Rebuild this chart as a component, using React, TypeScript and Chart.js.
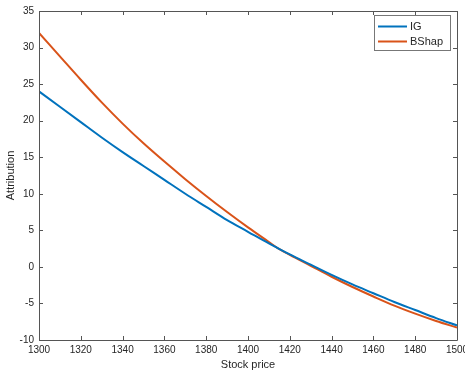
import React, { useEffect, useRef } from "react";
import { Chart, registerables } from "chart.js";

Chart.register(...registerables);

const stockPrices = [1300, 1310, 1320, 1330, 1340, 1350, 1360, 1370, 1380, 1390, 1400, 1410, 1414, 1420, 1430, 1440, 1450, 1460, 1470, 1480, 1490, 1500];
const igValues = [24.0, 21.9, 19.8, 17.7, 15.7, 13.8, 11.9, 10.0, 8.2, 6.4, 4.8, 3.2, 2.6, 1.7, 0.3, -1.1, -2.4, -3.6, -4.8, -5.9, -7.0, -8.0];
const bshapValues = [32.0, 28.8, 25.6, 22.5, 19.6, 16.9, 14.4, 12.0, 9.7, 7.5, 5.4, 3.4, 2.6, 1.65, 0.15, -1.35, -2.75, -4.05, -5.3, -6.4, -7.4, -8.3];
const seriesNames = ["IG", "BShap"];
const xTickStep = 20;
const yTickStep = 5;
const xRange = [1300, 1500];
const yRange = [-10, 35];
const xTitle = "Stock price";
const yTitle = "Attribution";

const COLORS = ["#0072BD", "#D95319"];
const AXIS = "#262626";
const FONT = "'Liberation Sans', Arial, Helvetica, sans-serif";

const boxPlugin = {
  id: "matlabBox",
  afterDraw(chart: any) {
    const { ctx, chartArea: a, scales } = chart;
    const x = scales.x;
    const y = scales.y;
    ctx.save();
    ctx.strokeStyle = "#555555";
    ctx.lineWidth = 1;
    ctx.beginPath();
    ctx.rect(Math.round(a.left) + 0.5, Math.round(a.top) + 0.5, Math.round(a.right - a.left), Math.round(a.bottom - a.top));
    ctx.stroke();
    const tl = 4;
    ctx.beginPath();
    for (const t of x.ticks) {
      const px = Math.round(x.getPixelForValue(t.value)) + 0.5;
      ctx.moveTo(px, a.bottom);
      ctx.lineTo(px, a.bottom - tl);
      ctx.moveTo(px, a.top);
      ctx.lineTo(px, a.top + tl);
    }
    for (const t of y.ticks) {
      const py = Math.round(y.getPixelForValue(t.value)) + 0.5;
      ctx.moveTo(a.left, py);
      ctx.lineTo(a.left + tl, py);
      ctx.moveTo(a.right, py);
      ctx.lineTo(a.right - tl, py);
    }
    ctx.stroke();

    // legend
    const lx = 374, ly = 15, lw = 76, lh = 35;
    ctx.fillStyle = "#ffffff";
    ctx.fillRect(lx, ly, lw, lh);
    ctx.strokeStyle = "#777777";
    ctx.strokeRect(lx + 0.5, ly + 0.5, lw, lh);
    ctx.font = `11px ${FONT}`;
    ctx.textBaseline = "middle";
    ctx.textAlign = "left";
    seriesNames.forEach((name, i) => {
      const yy = ly + 11.5 + i * 15;
      ctx.strokeStyle = COLORS[i];
      ctx.lineWidth = 2;
      ctx.beginPath();
      ctx.moveTo(lx + 4, yy);
      ctx.lineTo(lx + 33, yy);
      ctx.stroke();
      ctx.fillStyle = AXIS;
      ctx.fillText(name, lx + 36, yy + 0.5);
    });
    ctx.restore();
  },
};

export default function App() {
  const ref = useRef<HTMLCanvasElement | null>(null);
  useEffect(() => {
    if (!ref.current) return;
    const mk = (vals: number[]) => stockPrices.map((p, i) => ({ x: p, y: vals[i] }));
    const chart = new Chart(ref.current, {
      type: "line",
      data: {
        datasets: [
          { label: seriesNames[0], data: mk(igValues), borderColor: COLORS[0], borderWidth: 2, pointRadius: 0, cubicInterpolationMode: "monotone" as any },
          { label: seriesNames[1], data: mk(bshapValues), borderColor: COLORS[1], borderWidth: 2, pointRadius: 0, cubicInterpolationMode: "monotone" as any },
        ],
      },
      options: {
        animation: false,
        responsive: false,
        maintainAspectRatio: false,
        layout: { padding: { left: 0, right: 8, top: 11, bottom: 0 } },
        plugins: { legend: { display: false }, tooltip: { enabled: false } },
        scales: {
          x: {
            type: "linear",
            min: xRange[0],
            max: xRange[1],
            ticks: { stepSize: xTickStep, color: AXIS, font: { family: FONT, size: 10 }, padding: 4, maxRotation: 0, autoSkip: false, callback: (v: any) => String(v) },
            grid: { display: false, drawTicks: false },
            border: { display: false },
            title: { display: true, text: xTitle, color: AXIS, font: { family: FONT, size: 11 }, padding: { top: 0, bottom: 0 } },
            afterFit(scale: any) {
              scale.height = 32;
              scale.paddingLeft = 0;
              scale.paddingRight = 0;
            },
          },
          y: {
            type: "linear",
            min: yRange[0],
            max: yRange[1],
            ticks: { stepSize: yTickStep, color: AXIS, font: { family: FONT, size: 10 }, padding: 5 },
            grid: { display: false, drawTicks: false },
            border: { display: false },
            title: { display: true, text: yTitle, color: AXIS, font: { family: FONT, size: 11 }, padding: { top: 4, bottom: 2 } },
            afterFit(scale: any) {
              scale.width = 39;
              scale.paddingTop = 0;
              scale.paddingBottom = 0;
            },
          },
        },
      },
      plugins: [boxPlugin],
    });
    return () => chart.destroy();
  }, []);
  return (
    <div style={{ position: "absolute", left: 0, top: 0, width: 465, height: 372, background: "#fff" }}>
      <canvas ref={ref} width={465} height={372} style={{ display: "block" }} />
    </div>
  );
}
